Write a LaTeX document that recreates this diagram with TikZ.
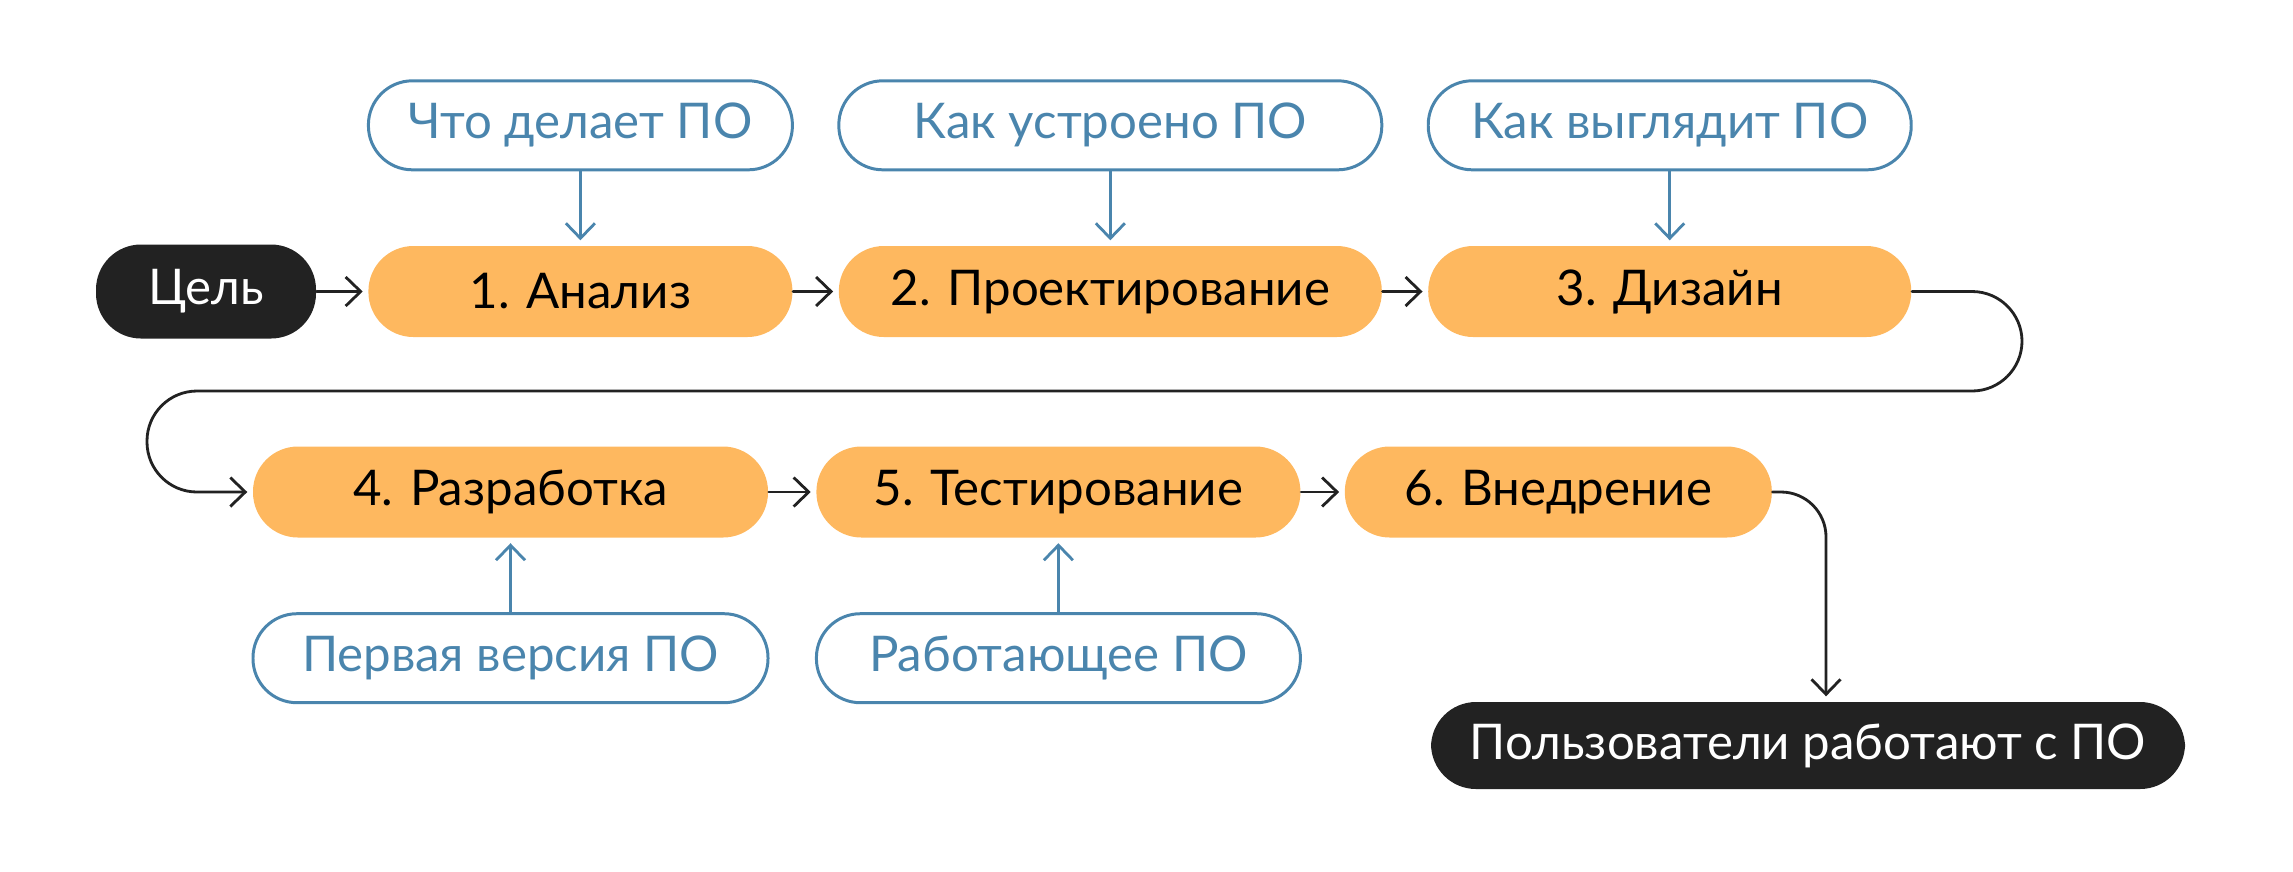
\documentclass[tikz,border=0pt]{standalone}
\usepackage{fontspec}
\setmainfont{Lato}
\usepackage{tikz}
\usetikzlibrary{arrows.meta,positioning}
\definecolor{stagefill}{HTML}{FEB85F}
\definecolor{darkfill}{HTML}{222222}
\definecolor{noteblue}{HTML}{4A85AD}

\begin{document}
\begin{tikzpicture}[
  stage/.style={rectangle,rounded corners=4.5mm,fill=stagefill,minimum height=9.1mm,inner sep=0pt,font=\fontsize{14}{17}\selectfont},
  endpoint/.style={stage,fill=darkfill,text=white},
  note/.style={rectangle,rounded corners=4.4mm,draw=noteblue,line width=0.85pt,text=noteblue,minimum height=8.9mm,inner sep=0pt,font=\fontsize{14}{17}\selectfont},
  flow/.style={draw=darkfill,line width=0.8pt,line cap=round,-{Straight Barb[length=1.5mm,width=2.9mm]},shorten >=0.5mm},
  feed/.style={flow,draw=noteblue}
]
\useasboundingbox (0,0) rectangle (229.3mm,-87.1mm);
% first row
\node[endpoint,minimum width=22mm,minimum height=9.4mm] (goal) at (20.6mm,-29.15mm) {Цель};
\node[stage,minimum width=42.4mm,right=5.1mm of goal] (analysis) {1. Анализ};
\node[stage,minimum width=54.3mm,right=4.5mm of analysis] (design) {2. Проектирование};
\node[stage,minimum width=48.3mm,right=4.5mm of design] (ui) {3. Дизайн};
\node[note,minimum width=42.4mm,above=7.4mm of analysis] (what) {Что делает ПО};
\node[note,minimum width=54.3mm,above=7.4mm of design] (how) {Как устроено ПО};
\node[note,minimum width=48.3mm,above=7.4mm of ui] (look) {Как выглядит ПО};
% second row
\node[stage,minimum width=51.5mm] (dev) at (51.05mm,-49.2mm) {4. Разработка};
\node[stage,minimum width=48.4mm,right=4.7mm of dev] (test) {5. Тестирование};
\node[stage,minimum width=42.7mm,right=4.3mm of test] (deploy) {6. Внедрение};
\node[note,minimum width=51.5mm,below=7.4mm of dev] (first) {Первая версия ПО};
\node[note,minimum width=48.4mm,below=7.4mm of test] (working) {Работающее ПО};
\node[endpoint,minimum width=75.4mm,minimum height=8.7mm] (users) at (180.8mm,-74.55mm) {Пользователи работают с ПО};
\coordinate (turn) at (202.2mm,-39.1mm);
\coordinate (back) at (14.7mm,-39.1mm);
\coordinate (drop) at (182.6mm,0);

\draw[flow] (goal) -- (analysis);
\draw[flow] (analysis) -- (design);
\draw[flow] (design) -- (ui);
\draw[flow,rounded corners=5mm] (ui.east) -| (turn) -- (back) |- (dev.west);
\draw[flow] (dev) -- (test);
\draw[flow] (test) -- (deploy);
\draw[flow,rounded corners=4.5mm] (deploy.east) -| (users.north -| drop);
\draw[feed] (what) -- (analysis);
\draw[feed] (how) -- (design);
\draw[feed] (look) -- (ui);
\draw[feed] (first) -- (dev);
\draw[feed] (working) -- (test);
\end{tikzpicture}
\end{document}
